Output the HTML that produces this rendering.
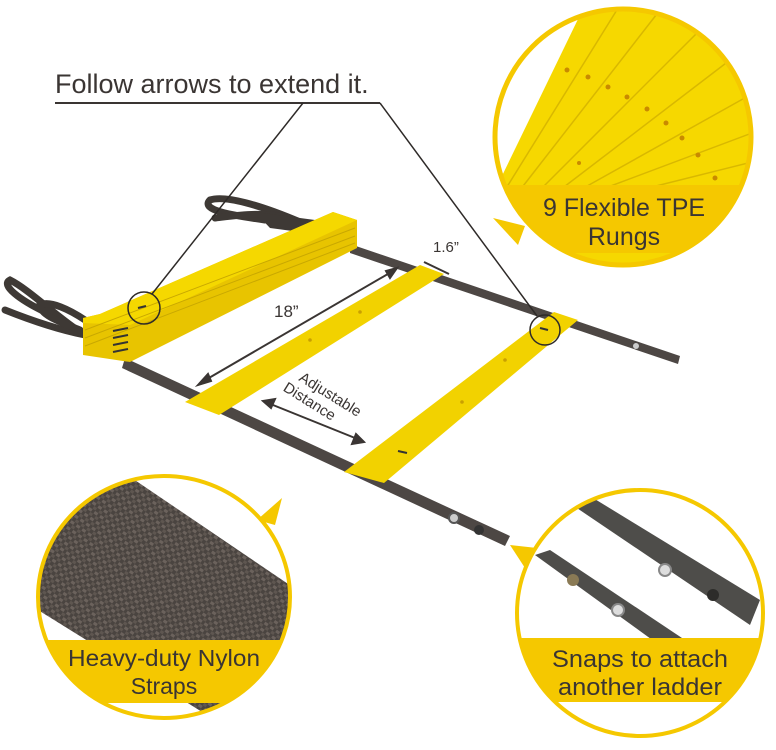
<!DOCTYPE html>
<html><head><meta charset="utf-8"><style>
html,body{margin:0;padding:0;background:#fff;}
svg{display:block}
text{font-family:"Liberation Sans",sans-serif;}
</style></head><body>
<svg width="776" height="750" viewBox="0 0 776 750" xmlns="http://www.w3.org/2000/svg">
<defs>
<pattern id="weave" width="7" height="7" patternUnits="userSpaceOnUse" patternTransform="rotate(35)">
<rect width="7" height="7" fill="#4a4440"/>
<rect x="0" y="0" width="4" height="3" fill="#6b625c"/>
<rect x="3.5" y="3.5" width="4" height="3" fill="#5e5650"/>
</pattern>
<clipPath id="c1"><ellipse cx="623" cy="137" rx="128" ry="128"/></clipPath>
<clipPath id="c2"><ellipse cx="164" cy="597" rx="126" ry="121"/></clipPath>
<clipPath id="c3"><ellipse cx="640" cy="613" rx="123" ry="123"/></clipPath>
</defs>

<text x="55" y="93" font-size="27" fill="#3a3533">Follow arrows to extend it.</text>
<line x1="55" y1="103" x2="380" y2="103" stroke="#3a3533" stroke-width="2"/>

<!-- handles -->
<g fill="none" stroke="#3e3935" stroke-width="7" stroke-linecap="round">
<path d="M300,222 C260,205 225,195 210,200 C200,210 230,215 265,220"/>
<path d="M300,222 C270,210 240,215 215,218"/>
<path d="M85,335 C60,320 30,290 10,280 C0,285 20,300 45,312"/>
<path d="M85,335 C60,330 30,320 5,310"/>
<path d="M85,320 C70,310 50,300 40,305 C40,315 60,322 80,330"/>
</g>
<path d="M255,212 L330,222 L330,236 L270,228 Z" fill="#3e3935"/>

<!-- rails -->
<polygon points="350,244 680,356 678,364 350,253" fill="#4d4744"/>
<polygon points="125,358 510,536 505,546 122,368" fill="#4d4744"/>
<circle cx="636" cy="346" r="3" fill="#ccc"/>
<circle cx="454" cy="518" r="5" fill="#ccc" stroke="#555" stroke-width="2"/>
<circle cx="479" cy="530" r="5" fill="#333"/>

<!-- stacked rungs -->
<polygon points="83,318 100,314 333,212 357,220 357,248 130,362 83,355" fill="#e8c400"/>
<polygon points="83,318 100,314 333,212 357,220 130,325 83,323" fill="#f5d800"/>
<line x1="85" y1="330" x2="355" y2="228" stroke="#c9a800" stroke-width="1"/>
<line x1="85" y1="338" x2="355" y2="236" stroke="#c9a800" stroke-width="1"/>
<line x1="85" y1="346" x2="355" y2="243" stroke="#c9a800" stroke-width="1"/>
<g stroke="#333" stroke-width="2"><line x1="113" y1="331" x2="128" y2="328"/><line x1="113" y1="338" x2="128" y2="335"/><line x1="113" y1="345" x2="128" y2="342"/><line x1="113" y1="352" x2="128" y2="349"/></g>
<path d="M138,308 l8,-2" stroke="#333" stroke-width="2"/>

<polygon points="420,265 444,274 219,415 185,402" fill="#f2d200"/>
<circle cx="360" cy="312" r="1.8" fill="#c9a000"/>
<circle cx="310" cy="340" r="1.8" fill="#c9a000"/>
<polygon points="554,312 578,320 384,483 344,472" fill="#f2d200"/>
<circle cx="505" cy="360" r="1.8" fill="#c9a000"/>
<circle cx="462" cy="402" r="1.8" fill="#c9a000"/>
<path d="M398,451 l9,2" stroke="#333" stroke-width="2"/>
<path d="M540,328 l8,2" stroke="#333" stroke-width="2"/>

<line x1="303" y1="103" x2="152" y2="294" stroke="#2e2a28" stroke-width="1.5"/>
<line x1="380" y1="103" x2="537" y2="316" stroke="#2e2a28" stroke-width="1.5"/>
<circle cx="144" cy="308" r="16" fill="none" stroke="#2e2a28" stroke-width="1.5"/>
<circle cx="545" cy="330" r="15" fill="none" stroke="#2e2a28" stroke-width="1.5"/>

<g stroke="#3a3533" stroke-width="2" fill="#3a3533">
<line x1="202" y1="382" x2="393" y2="271"/>
<polygon points="198,385 208,374 211,381"/><polygon points="397,268 386,271 390,278"/>
<line x1="424" y1="262" x2="449" y2="274"/>
<line x1="268" y1="403" x2="360" y2="440"/>
<polygon points="263,401 275,399 271,408"/><polygon points="364,442 352,444 356,434"/>
</g>
<text x="274" y="317" font-size="17" fill="#3a3533">18”</text>
<text x="433" y="252" font-size="15" fill="#3a3533">1.6”</text>
<g transform="translate(298,380) rotate(32)"><text x="0" y="0" font-size="15" fill="#3a3533">Adjustable</text><text x="-8" y="17" font-size="15" fill="#3a3533">Distance</text></g>

<!-- top-right circle -->
<polygon points="493,218 525,226 518,245" fill="#f5c800"/>
<g clip-path="url(#c1)">
<rect x="490" y="0" width="290" height="280" fill="#f6d800"/>
<polygon points="490,0 580,0 580,15 500,180 490,180" fill="#fff"/>
<g stroke="#d9b800" stroke-width="1.5">
<line x1="505" y1="190" x2="620" y2="5"/><line x1="520" y1="190" x2="660" y2="10"/>
<line x1="540" y1="190" x2="700" y2="30"/><line x1="560" y1="190" x2="730" y2="60"/>
<line x1="580" y1="190" x2="750" y2="95"/><line x1="600" y1="190" x2="760" y2="130"/>
<line x1="640" y1="190" x2="760" y2="160"/>
</g>
<g fill="#c98a00"><circle cx="567" cy="70" r="2.5"/><circle cx="588" cy="77" r="2.5"/><circle cx="608" cy="87" r="2.5"/><circle cx="627" cy="97" r="2.5"/><circle cx="647" cy="109" r="2.5"/><circle cx="666" cy="123" r="2.5"/><circle cx="682" cy="138" r="2.5"/><circle cx="698" cy="155" r="2.5"/><circle cx="715" cy="178" r="2.5"/><circle cx="579" cy="163" r="2"/></g>
<rect x="490" y="185" width="290" height="68" fill="#f5c800"/>
</g>
<ellipse cx="623" cy="137" rx="128" ry="128" fill="none" stroke="#f5c800" stroke-width="5"/>
<text x="624" y="216" font-size="25" fill="#3a3533" text-anchor="middle">9 Flexible TPE</text>
<text x="624" y="245" font-size="25" fill="#3a3533" text-anchor="middle">Rungs</text>

<!-- bottom-left circle -->
<polygon points="257,520 282,498 275,525" fill="#f5c800"/>
<g clip-path="url(#c2)">
<rect x="30" y="470" width="270" height="260" fill="#fff"/>
<polygon points="30,470 120,470 300,592 300,720 215,720 30,605" fill="url(#weave)"/>
<rect x="30" y="640" width="270" height="63" fill="#f5c800"/>
</g>
<ellipse cx="164" cy="597" rx="126" ry="121" fill="none" stroke="#f5c800" stroke-width="4"/>
<text x="164" y="666" font-size="23" fill="#3a3533" text-anchor="middle" textLength="192" lengthAdjust="spacingAndGlyphs">Heavy-duty Nylon</text>
<text x="164" y="694" font-size="23" fill="#3a3533" text-anchor="middle">Straps</text>

<!-- bottom-right circle -->
<polygon points="510,545 537,548 525,568" fill="#f5c800"/>
<g clip-path="url(#c3)">
<rect x="510" y="485" width="260" height="260" fill="#fff"/>
<polygon points="565,500 580,490 760,600 750,625" fill="#4e4d4a"/>
<polygon points="535,555 550,550 700,650 680,660" fill="#4e4d4a"/>
<circle cx="665" cy="570" r="6" fill="#ddd" stroke="#888" stroke-width="2"/>
<circle cx="713" cy="595" r="6" fill="#2d2c2a"/>
<circle cx="573" cy="580" r="6" fill="#8a7a55"/>
<circle cx="618" cy="610" r="6" fill="#ddd" stroke="#888" stroke-width="2"/>
<rect x="510" y="638" width="260" height="64" fill="#f5c800"/>
</g>
<ellipse cx="640" cy="613" rx="123" ry="123" fill="none" stroke="#f5c800" stroke-width="4"/>
<text x="640" y="667" font-size="24" fill="#3a3533" text-anchor="middle" textLength="176" lengthAdjust="spacingAndGlyphs">Snaps to attach</text>
<text x="640" y="695" font-size="24" fill="#3a3533" text-anchor="middle" textLength="164" lengthAdjust="spacingAndGlyphs">another ladder</text>
</svg>
</body></html>
